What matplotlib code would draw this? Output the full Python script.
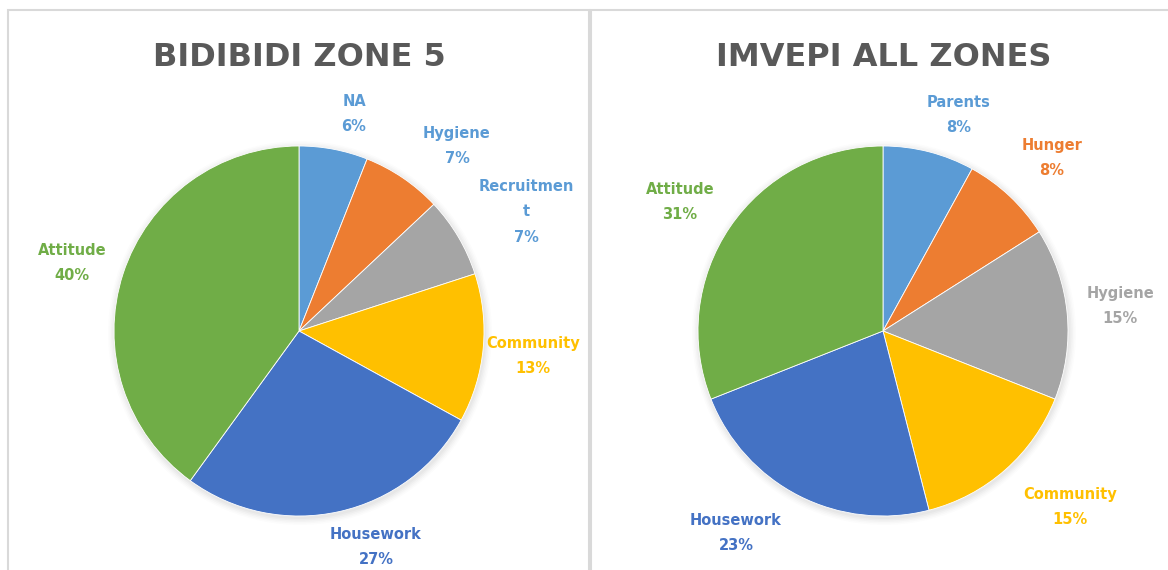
import matplotlib
matplotlib.use("Agg")
import matplotlib.pyplot as plt
from matplotlib.patches import Rectangle, Circle

# ---- data ----
left_title = "BIDIBIDI ZONE 5"
left_labels = ["NA", "Hygiene", "Recruitmen\nt", "Community", "Housework", "Attitude"]
left_values = [6, 7, 7, 13, 27, 40]

right_title = "IMVEPI ALL ZONES"
right_labels = ["Parents", "Hunger", "Hygiene", "Community", "Housework", "Attitude"]
right_values = [8, 8, 15, 15, 23, 31]

slice_colors = ["#5B9BD5", "#ED7D31", "#A5A5A5", "#FFC000", "#4472C4", "#70AD47"]
left_label_colors = ["#5B9BD5", "#5B9BD5", "#5B9BD5", "#FFC000", "#4472C4", "#70AD47"]
right_label_colors = slice_colors

W, H = 1168, 570
fig = plt.figure(figsize=(W / 100, H / 100), dpi=100)
ax = fig.add_axes([0, 0, 1, 1])

def P(x, y):
    # pixel (top-left origin) -> data coords (bottom-left origin)
    return x, H - y

# panel frames
for (x0, x1) in [(8, 589), (591, 1175)]:
    ax.add_patch(Rectangle(P(x0, 590), x1 - x0, 580, fill=False,
                           edgecolor="#D9D9D9", linewidth=1.5, zorder=0))

def draw_panel(title, labels, values, label_colors, cx, cy, r, title_x, label_pos):
    # soft shadow
    for i, a in enumerate([0.025, 0.025, 0.02, 0.015, 0.01]):
        ax.add_patch(Circle(P(cx + 1, cy + 2), r + 1 + i * 1.5, color="black",
                            alpha=a, lw=0, zorder=1))
    ax.pie(values, colors=slice_colors, startangle=90, counterclock=False,
           center=P(cx, cy), radius=r, frame=True,
           wedgeprops=dict(edgecolor="white", linewidth=0.6, zorder=2))
    ax.text(*P(title_x, 57), title, ha="center", va="center", fontsize=23,
            fontweight="bold", color="#595959")
    tot = sum(values)
    for lab, v, c, (lx, ly) in zip(labels, values, label_colors, label_pos):
        ax.text(*P(lx, ly), f"{lab}\n{round(100 * v / tot)}%", ha="center",
                va="center", fontsize=10.5, fontweight="bold", color=c,
                linespacing=1.9, zorder=5)

draw_panel(left_title, left_labels, left_values, left_label_colors,
           299, 331, 185, 299,
           [(354, 114), (457, 146), (526, 212), (533, 356), (376, 547), (72, 263)])
draw_panel(right_title, right_labels, right_values, right_label_colors,
           883, 331, 185, 884,
           [(959, 115), (1052, 158), (1120, 306), (1070, 507), (736, 533), (680, 202)])

ax.set_xlim(0, W)
ax.set_ylim(0, H)
ax.set_aspect("auto")
ax.axis("off")

fig.savefig("out.png", dpi=100, facecolor="white")
